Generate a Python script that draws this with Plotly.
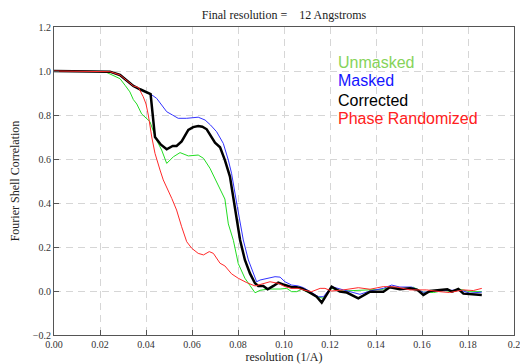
import plotly.graph_objects as go

# ---- data ----
corrected_x = [0, 0.005, 0.010, 0.015, 0.020, 0.0243, 0.0287, 0.0316, 0.0345, 0.0374,
               0.0400, 0.0420, 0.0439, 0.0465, 0.0490, 0.0516, 0.0533, 0.0555, 0.0584, 0.0605,
               0.0627, 0.0645, 0.0664, 0.0685, 0.0700, 0.0722, 0.0743, 0.0765, 0.0787, 0.0809,
               0.0830, 0.0852, 0.0874, 0.0888, 0.0910, 0.0929, 0.0954, 0.0975, 0.1004, 0.1033,
               0.1055, 0.1077, 0.1106, 0.1142, 0.1164, 0.1207, 0.1243, 0.1273, 0.1323, 0.1374,
               0.1432, 0.1460, 0.1504, 0.1548, 0.1580, 0.1606, 0.1635, 0.1678, 0.1710, 0.1730,
               0.1758, 0.1780, 0.1860]
corrected_y = [1.0, 1.0, 1.0, 1.0, 0.999, 0.997, 0.982, 0.959, 0.932, 0.917,
               0.905, 0.895, 0.70, 0.665, 0.644, 0.659, 0.659, 0.68, 0.732, 0.745,
               0.75, 0.747, 0.735, 0.70, 0.674, 0.653, 0.595, 0.52, 0.383, 0.232,
               0.141, 0.08, 0.035, 0.023, 0.023, 0.008, 0.023, 0.038, 0.027, 0.017,
               0.017, 0.012, -0.003, -0.026, -0.053, 0.02, -0.003, -0.007, -0.033, -0.003,
               -0.003, 0.017, 0.008, 0.012, 0.005, -0.018, 0.0, 0.005, 0.008, -0.003,
               0.009, -0.012, -0.018]

masked_x = [0, 0.005, 0.010, 0.015, 0.020, 0.0243, 0.0287, 0.0316, 0.0345, 0.0374,
            0.0400, 0.0420, 0.0446, 0.0470, 0.0490, 0.0515, 0.0540, 0.0577, 0.0600, 0.0627,
            0.0657, 0.0680, 0.0707, 0.0736, 0.0758, 0.0772, 0.0797, 0.0823, 0.0845, 0.0867,
            0.0881, 0.0896, 0.0932, 0.0961, 0.0983, 0.1004, 0.1033, 0.1062, 0.1085, 0.1113,
            0.1150, 0.1171, 0.1207, 0.1258, 0.1330, 0.1374, 0.1432, 0.1468, 0.1504, 0.1555,
            0.1606, 0.1664, 0.1720, 0.1765, 0.1808, 0.1860]
masked_y = [1.0, 1.0, 1.0, 1.0, 0.999, 0.997, 0.982, 0.959, 0.932, 0.917,
            0.905, 0.895, 0.876, 0.845, 0.815, 0.80, 0.785, 0.785, 0.788, 0.79,
            0.777, 0.755, 0.724, 0.671, 0.595, 0.535, 0.383, 0.232, 0.141, 0.08,
            0.042, 0.05, 0.058, 0.065, 0.063, 0.042, 0.027, 0.023, 0.015, -0.003,
            -0.026, -0.026, 0.02, 0.005, -0.015, 0.0, 0.012, 0.027, 0.018, 0.018,
            -0.006, 0.0, 0.002, 0.005, -0.01, -0.005]

unmasked_x = [0, 0.005, 0.010, 0.015, 0.020, 0.0230, 0.0265, 0.0287, 0.0309, 0.0330,
              0.0345, 0.0360, 0.0381, 0.0400, 0.0417, 0.0446, 0.0468, 0.0490, 0.0519, 0.0548,
              0.0584, 0.0627, 0.0650, 0.0678, 0.0707, 0.0743, 0.0758, 0.0780, 0.0801, 0.0830,
              0.0852, 0.0874, 0.0896, 0.0932, 0.0983, 0.1012, 0.1033, 0.1055, 0.1077, 0.1113,
              0.1142, 0.1171, 0.1207, 0.1258, 0.1316, 0.1374, 0.1432, 0.1460, 0.1526, 0.1562,
              0.1606, 0.1650, 0.1693, 0.1736, 0.1765, 0.1808, 0.1860]
unmasked_y = [1.0, 1.0, 1.0, 1.0, 0.998, 0.993, 0.977, 0.965, 0.935, 0.905,
              0.87, 0.85, 0.805, 0.785, 0.77, 0.686, 0.641, 0.58, 0.61, 0.629,
              0.614, 0.618, 0.603, 0.558, 0.493, 0.418, 0.305, 0.23, 0.125, 0.058,
              0.025, -0.008, 0.003, 0.009, 0.009, 0.012, -0.003, -0.003, 0.008, -0.01,
              -0.026, -0.033, 0.012, 0.0, 0.003, 0.008, 0.008, 0.017, 0.008, 0.017,
              -0.005, -0.007, 0.002, -0.003, 0.008, -0.003, -0.003]

phase_x = [0, 0.005, 0.010, 0.015, 0.020, 0.0243, 0.0287, 0.0316, 0.0345, 0.0367,
           0.0388, 0.0400, 0.0410, 0.0425, 0.0439, 0.0461, 0.0475, 0.0512, 0.0533, 0.0555,
           0.0577, 0.0599, 0.0627, 0.0650, 0.0675, 0.0693, 0.0722, 0.0743, 0.0772, 0.0801,
           0.0838, 0.0874, 0.0910, 0.0939, 0.0975, 0.1004, 0.1033, 0.1062, 0.1091, 0.1120,
           0.1157, 0.1178, 0.1207, 0.1258, 0.1323, 0.1374, 0.1432, 0.1490, 0.1548, 0.1620,
           0.1678, 0.1720, 0.1780, 0.1823, 0.1860]
phase_y = [1.0, 1.0, 1.0, 1.0, 0.999, 0.997, 0.982, 0.959, 0.932, 0.925,
           0.883, 0.85, 0.80, 0.70, 0.626, 0.55, 0.505, 0.421, 0.368, 0.292,
           0.224, 0.194, 0.171, 0.164, 0.179, 0.171, 0.126, 0.114, 0.078, 0.058,
           0.038, 0.023, 0.035, 0.042, 0.035, 0.02, 0.012, 0.012, 0.003, -0.003,
           0.012, 0.012, 0.0, 0.005, 0.015, 0.008, 0.02, 0.018, 0.005, 0.005,
           -0.003, -0.007, 0.005, 0.002, 0.012]

x_tickvals = [0.00, 0.02, 0.04, 0.06, 0.08, 0.10, 0.12, 0.14, 0.16, 0.18, 0.20]
x_ticktext = ["0.00", "0.02", "0.04", "0.06", "0.08", "0.10", "0.12", "0.14", "0.16", "0.18", "0.2"]

series_names = ["Unmasked", "Masked", "Corrected", "Phase Randomized"]
label_y = [1.04, 0.955, 0.868, 0.782]

SERIF = "Liberation Serif, Times New Roman, serif"
SANS = "Liberation Sans, Arial, sans-serif"

fig = go.Figure()
fig.add_trace(go.Scatter(x=unmasked_x, y=unmasked_y, mode="lines", name="Unmasked",
                         line=dict(color="#22dd22", width=1)))
fig.add_trace(go.Scatter(x=masked_x, y=masked_y, mode="lines", name="Masked",
                         line=dict(color="#3333ff", width=1)))
fig.add_trace(go.Scatter(x=corrected_x, y=corrected_y, mode="lines", name="Corrected",
                         line=dict(color="#000000", width=2.5)))
fig.add_trace(go.Scatter(x=phase_x, y=phase_y, mode="lines", name="Phase Randomized",
                         line=dict(color="#ff2a2a", width=1)))

label_colors = ["#86d35a", "#1414ff", "#000000", "#ff2020"]
for name, yy, col in zip(series_names, label_y, label_colors):
    fig.add_annotation(x=0.1226, y=yy, xref="x", yref="y", text=name, showarrow=False,
                       xanchor="left", yanchor="middle",
                       font=dict(family=SANS, size=16, color=col))

axis_common = dict(
    showline=True, linecolor="#555555", linewidth=1, mirror=True,
    ticks="inside", ticklen=5, tickcolor="#555555",
    showgrid=True, gridcolor="#d6d6d6", gridwidth=1, griddash="7px,5px",
    zeroline=False, automargin=False,
    tickfont=dict(family=SERIF, size=10, color="#333333"),
)

fig.update_layout(
    width=520, height=364,
    margin=dict(l=54, r=6, t=27, b=29),
    paper_bgcolor="white", plot_bgcolor="white",
    showlegend=False,
    title=dict(text="Final resolution =\u00a0\u00a0\u00a0\u00a012 Angstroms",
               x=0.5, xref="paper", y=1 - 15 / 364, yref="container",
               xanchor="center", yanchor="middle",
               font=dict(family=SERIF, size=12, color="#222222")),
    xaxis=dict(range=[0, 0.2], tickvals=x_tickvals, ticktext=x_ticktext,
               ticklabeloverflow="allow",
               title=dict(text="resolution (1/A)", standoff=3,
                          font=dict(family=SERIF, size=12, color="#222222")),
               **axis_common),
    yaxis=dict(range=[-0.2, 1.2], dtick=0.2, tick0=0, tickformat=".1f",
               title=dict(text="Fourier Shell Correlation", standoff=10,
                          font=dict(family=SERIF, size=12, color="#222222")),
               **axis_common),
)

fig.write_html("out.html")
